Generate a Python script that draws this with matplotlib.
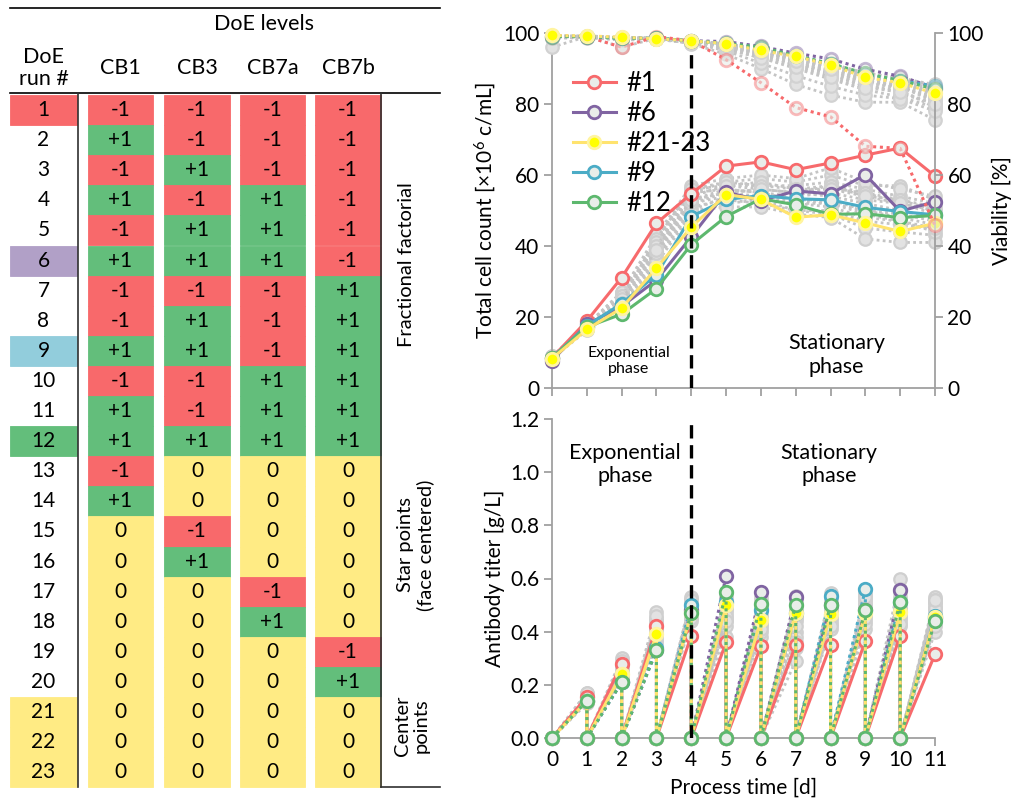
import numpy as np
import matplotlib
matplotlib.use("Agg")
import matplotlib.pyplot as plt
from matplotlib.patches import Rectangle
from matplotlib.colors import to_rgba

plt.rcParams['font.family'] = ['Lato', 'DejaVu Sans']
plt.rcParams['mathtext.fontset'] = 'custom'
plt.rcParams['mathtext.rm'] = 'Lato'
plt.rcParams['mathtext.it'] = 'Lato:italic'
plt.rcParams['mathtext.bf'] = 'Lato:bold'

# ---------------- DATA ----------------
runs = list(range(1, 24))
factors = ["CB1", "CB3", "CB7a", "CB7b"]
cb1 = [-1, 1, -1, 1, -1, 1, -1, -1, 1, -1, 1, 1, -1, 1, 0, 0, 0, 0, 0, 0, 0, 0, 0]
cb3 = [-1, -1, 1, -1, 1, 1, -1, 1, 1, -1, -1, 1, 0, 0, -1, 1, 0, 0, 0, 0, 0, 0, 0]
cb7a = [-1, -1, -1, 1, 1, 1, -1, -1, -1, 1, 1, 1, 0, 0, 0, 0, -1, 1, 0, 0, 0, 0, 0]
cb7b = [-1, -1, -1, -1, -1, -1, 1, 1, 1, 1, 1, 1, 0, 0, 0, 0, 0, 0, -1, 1, 0, 0, 0]
groups = [("Fractional factorial", 1, 12), ("Star points\n(face centered)", 13, 20),
          ("Center\npoints", 21, 23)]

days = list(range(12))
labels = ["#1", "#6", "#21-23", "#9", "#12"]

count_1 = [8.5, 18.9, 31.1, 46.4, 54.7, 62.5, 63.7, 61.5, 63.4, 65.6, 67.6, 59.7]
count_6 = [7.7, 17.9, 23.0, 30.4, 42.6, 55.2, 52.8, 55.5, 54.7, 60.1, 49.8, 52.5]
count_21 = [8.3, 16.5, 22.5, 33.8, 45.3, 54.5, 53.1, 48.1, 48.8, 46.5, 44.1, 46.4]
count_9 = [8.5, 17.5, 23.8, 31.9, 48.3, 53.1, 54.2, 53.3, 53.0, 50.9, 49.7, 48.8]
count_12 = [8.5, 17.2, 20.8, 28.0, 40.4, 48.3, 53.3, 51.6, 48.9, 49.1, 48.0, 48.6]

via_1 = [99.0, 99.0, 96.0, 99.0, 97.8, 92.5, 86.0, 79.0, 76.4, 68.1, 67.5, 45.8]
via_6 = [99.2, 99.0, 98.6, 98.5, 97.8, 97.6, 96.2, 94.3, 92.7, 89.8, 87.8, 84.6]
via_21 = [99.3, 99.2, 98.8, 98.4, 97.8, 97.0, 95.1, 93.4, 91.0, 87.5, 86.0, 83.0]
via_9 = [99.0, 99.0, 98.5, 98.5, 97.8, 97.0, 95.6, 93.6, 91.2, 88.3, 86.6, 85.0]
via_12 = [99.0, 99.0, 98.5, 98.5, 97.8, 97.1, 96.0, 93.6, 91.4, 88.6, 86.6, 84.2]

titer_1 = [0.155, 0.28, 0.42, 0.385, 0.36, 0.345, 0.35, 0.35, 0.365, 0.385, 0.315]
titer_6 = [0.14, 0.21, 0.33, 0.48, 0.61, 0.55, 0.53, 0.50, 0.48, 0.555, 0.45]
titer_21 = [0.14, 0.24, 0.39, 0.47, 0.50, 0.445, 0.47, 0.465, 0.47, 0.475, 0.455]
titer_9 = [0.14, 0.21, 0.34, 0.50, 0.51, 0.48, 0.47, 0.535, 0.56, 0.51, 0.46]
titer_12 = [0.14, 0.21, 0.33, 0.47, 0.55, 0.505, 0.50, 0.50, 0.48, 0.51, 0.44]

gray_count = [
    [8.8, 17.5, 26, 40, 55, 58, 59, 58, 60, 57, 57, 53],
    [8.6, 17.0, 25, 42, 56, 57, 57, 57, 58, 56, 54, 52],
    [8.9, 17.8, 27, 43, 57, 59, 60, 59, 62, 58, 56, 54],
    [8.4, 16.8, 24, 38, 52, 55, 56, 55, 57, 54, 53, 50],
    [8.7, 17.2, 25, 39, 53, 56, 55, 54, 55, 53, 52, 49],
    [8.5, 16.5, 23, 36, 50, 54, 54, 52, 52, 50, 49, 47],
    [8.8, 17.4, 26, 41, 54, 57, 58, 56, 56, 55, 53, 51],
    [8.3, 16.2, 23, 35, 49, 52, 53, 50, 50, 47, 46, 45],
    [8.6, 17.1, 25, 40, 53, 55, 56, 55, 54, 52, 50, 48],
    [8.9, 17.6, 27, 42, 56, 58, 57, 56, 57, 55, 52, 50],
    [8.5, 16.9, 24, 37, 51, 53, 52, 50, 49, 45, 44, 43],
    [8.7, 17.3, 26, 41, 55, 56, 55, 53, 53, 50, 48, 46],
    [8.4, 16.6, 24, 36, 50, 51, 51, 49, 48, 42, 41, 41],
    [8.8, 17.7, 26, 40, 54, 57, 56, 55, 56, 54, 52, 50],
    [8.6, 17.0, 25, 38, 52, 54, 53, 52, 51, 48, 47, 44],
    [8.5, 16.8, 24, 39, 53, 55, 54, 53, 52, 49, 47, 45],
]
gray_via = [
    [99.2, 99.0, 98.6, 98.4, 97.6, 96.5, 95.0, 92.5, 90.0, 87.0, 85.0, 81.0],
    [98.8, 98.9, 98.2, 98.3, 97.4, 95.5, 93.0, 90.0, 87.0, 84.0, 82.0, 79.0],
    [96.0, 99.0, 96.0, 98.5, 97.0, 94.0, 90.0, 85.5, 82.5, 80.5, 80.5, 75.5],
    [99.0, 99.2, 98.8, 98.6, 97.8, 97.0, 95.5, 93.5, 91.5, 88.5, 87.0, 84.0],
    [98.5, 98.7, 98.0, 98.2, 97.2, 96.0, 94.0, 91.0, 88.0, 85.5, 83.0, 80.0],
    [99.1, 99.0, 98.5, 98.4, 97.6, 96.8, 95.0, 92.0, 89.5, 86.0, 84.5, 82.0],
    [98.9, 98.8, 98.3, 98.5, 97.5, 96.2, 94.5, 92.8, 90.5, 88.0, 86.0, 83.0],
    [99.0, 99.1, 98.7, 98.3, 97.3, 95.8, 93.5, 91.5, 89.0, 86.5, 85.0, 80.5],
    [98.7, 98.9, 98.4, 98.6, 97.7, 96.6, 95.2, 93.0, 91.0, 88.5, 87.5, 85.0],
    [99.2, 99.0, 98.6, 98.4, 97.5, 96.0, 94.2, 91.8, 88.5, 85.0, 84.0, 79.0],
    [98.6, 98.8, 98.1, 98.2, 97.2, 95.0, 91.5, 88.0, 85.0, 82.5, 81.5, 78.0],
    [99.0, 99.0, 98.5, 98.5, 97.6, 96.5, 94.8, 92.5, 90.0, 87.0, 85.5, 82.5],
    [98.8, 99.0, 98.4, 98.3, 97.4, 96.3, 94.0, 91.2, 88.8, 86.0, 84.8, 81.5],
    [99.1, 99.1, 98.7, 98.5, 97.7, 96.9, 95.3, 93.2, 91.2, 88.8, 87.2, 85.5],
    [98.9, 98.9, 98.2, 98.4, 97.5, 95.5, 93.0, 90.5, 87.5, 84.5, 83.5, 80.0],
    [99.0, 98.8, 98.5, 98.5, 97.6, 96.4, 94.6, 92.2, 89.8, 87.5, 86.2, 83.5],
]
gray_titer = [
    [0.16, 0.30, 0.475, 0.53, 0.50, 0.53, 0.535, 0.545, 0.53, 0.60, 0.53],
    [0.15, 0.27, 0.44, 0.51, 0.55, 0.50, 0.50, 0.52, 0.54, 0.52, 0.51],
    [0.17, 0.25, 0.42, 0.49, 0.45, 0.42, 0.40, 0.45, 0.50, 0.48, 0.49],
    [0.14, 0.22, 0.36, 0.44, 0.38, 0.38, 0.29, 0.41, 0.41, 0.42, 0.40],
    [0.15, 0.24, 0.40, 0.48, 0.48, 0.46, 0.45, 0.48, 0.46, 0.47, 0.46],
    [0.16, 0.26, 0.43, 0.50, 0.52, 0.48, 0.48, 0.50, 0.52, 0.50, 0.50],
    [0.13, 0.23, 0.37, 0.46, 0.44, 0.43, 0.38, 0.44, 0.44, 0.45, 0.43],
    [0.15, 0.25, 0.41, 0.52, 0.53, 0.51, 0.52, 0.53, 0.55, 0.56, 0.52],
    [0.14, 0.24, 0.39, 0.47, 0.47, 0.45, 0.44, 0.46, 0.48, 0.46, 0.45],
    [0.16, 0.28, 0.45, 0.50, 0.50, 0.47, 0.46, 0.49, 0.50, 0.53, 0.48],
    [0.15, 0.23, 0.38, 0.45, 0.42, 0.40, 0.34, 0.43, 0.43, 0.44, 0.42],
    [0.14, 0.26, 0.43, 0.51, 0.49, 0.50, 0.49, 0.51, 0.51, 0.49, 0.51],
    [0.16, 0.27, 0.44, 0.49, 0.46, 0.44, 0.42, 0.47, 0.47, 0.48, 0.47],
    [0.15, 0.25, 0.40, 0.47, 0.51, 0.49, 0.47, 0.50, 0.49, 0.51, 0.49],
    [0.14, 0.22, 0.35, 0.45, 0.44, 0.41, 0.36, 0.42, 0.45, 0.43, 0.44],
    [0.17, 0.29, 0.46, 0.52, 0.54, 0.52, 0.51, 0.52, 0.53, 0.55, 0.52],
]

# ---------------- STYLE ----------------
RED, PURPLE, YEL, BLUE, GREEN = "#F76A6C", "#8064A2", "#FFE36E", "#4BACC6", "#5DB86E"
CELL_RED, CELL_GREEN, CELL_YEL = "#F8696B", "#63BE7B", "#FFEB84"
run_highlight = {1: CELL_RED, 6: "#B1A0C7", 9: "#92CDDC", 12: CELL_GREEN,
                 21: CELL_YEL, 22: CELL_YEL, 23: CELL_YEL}
level_color = {-1: CELL_RED, 1: CELL_GREEN, 0: CELL_YEL}
MFC = "#E9EDE9"
GRAY = "#C4C4C4"
SPINE = "#A0A0A0"

fig = plt.figure(figsize=(10.12, 8.0), dpi=100)

# ---------------- TABLE ----------------
axt = fig.add_axes([0, 0, 450 / 1012, 1])
axt.set_xlim(0, 450)
axt.set_ylim(800, 0)
axt.axis("off")
row_top, row_h = 95.0, 30.1
col_run = (10, 77)
col_cb = [(88, 153), (164, 230), (240, 305), (315, 381)]
tfs = 15
levels = [cb1, cb3, cb7a, cb7b]
for i, r in enumerate(runs):
    y0 = row_top + i * row_h
    yc = y0 + row_h / 2
    if r in run_highlight:
        axt.add_patch(Rectangle((col_run[0], y0), col_run[1] - col_run[0], row_h,
                                facecolor=run_highlight[r], edgecolor=run_highlight[r], lw=0.6))
    axt.text((col_run[0] + col_run[1]) / 2, yc, str(r), ha="center", va="center", fontsize=tfs)
    for (x0, x1), lv in zip(col_cb, levels):
        v = lv[i]
        axt.add_patch(Rectangle((x0, y0), x1 - x0, row_h, facecolor=level_color[v],
                                edgecolor=level_color[v], lw=0.6))
        axt.text((x0 + x1) / 2, yc, f"{v:+d}" if v != 0 else "0", ha="center", va="center", fontsize=tfs)
y_end = row_top + len(runs) * row_h
axt.plot([10, 440], [8, 8], color="black", lw=1.2)
axt.plot([10, 440], [93, 93], color="black", lw=1.2)
axt.plot([78, 78], [93, y_end], color="#303030", lw=1.2)
axt.plot([381, 381], [93, y_end], color="#303030", lw=1.2)
axt.plot([381, 440], [y_end, y_end], color="#303030", lw=1.2)
axt.text(264, 24, "DoE levels", ha="center", va="center", fontsize=tfs + 0.5)
axt.text(44, 68, "DoE\nrun #", ha="center", va="center", fontsize=tfs + 0.5, linespacing=1.15)
for (x0, x1), f in zip(col_cb, factors):
    axt.text((x0 + x1) / 2, 68, f, ha="center", va="center", fontsize=tfs + 0.5)
group_text_y = [265, 545, 726]
group_text_x = [407, 416, 412]
for (name, a, b), gy, gx in zip(groups, group_text_y, group_text_x):
    axt.text(gx, gy, name, ha="center", va="center", rotation=90, fontsize=tfs - 0.5,
             linespacing=1.15)

# ---------------- TOP CHART ----------------
fs = 15
ax1 = fig.add_axes([552 / 1012, 1 - 388 / 800, 383 / 1012, 355 / 800])
ax2 = ax1.twinx()
for ax in (ax1, ax2):
    ax.set_xlim(0, 11)
    ax.set_ylim(0, 100)
    ax.set_yticks(range(0, 101, 20))
    ax.spines["top"].set_visible(False)
    for s in ("left", "right", "bottom"):
        ax.spines[s].set_color(SPINE)
        ax.spines[s].set_linewidth(1.3)
    ax.tick_params(direction="out", length=6, width=1.3, color=SPINE, labelsize=fs, pad=3)
ax1.set_xticks(days)
ax1.tick_params(axis="x", labelbottom=False)
ax1.spines["right"].set_visible(False)
ax2.spines["left"].set_visible(False)
ax2.spines["bottom"].set_visible(False)

for c, v in zip(gray_count, gray_via):
    ax1.plot(days, c, ls=(0, (1, 1.2)), lw=2, color=GRAY, marker="o", ms=9, mfc="#E2E2E2",
             mec="#CFCFCF", mew=1.6, clip_on=False, zorder=2)
    ax2.plot(days, v, ls=(0, (1, 1.2)), lw=2, color=GRAY, marker="o", ms=9, mfc="#E2E2E2",
             mec="#D2D2D2", mew=1.6, clip_on=False, zorder=2)

series = [
    ("#1", RED, count_1, via_1, titer_1),
    ("#6", PURPLE, count_6, via_6, titer_6),
    ("#9", BLUE, count_9, via_9, titer_9),
    ("#12", GREEN, count_12, via_12, titer_12),
    ("#21-23", YEL, count_21, via_21, titer_21),
]
handles = {}
for name, col, cnt, via, tit in series:
    if name == "#21-23":
        mfc, mec = "#FFFF00", "#FFF4A0"
    else:
        mfc, mec = MFC, col
    h, = ax1.plot(days, cnt, ls="-", lw=2.2, color=col, marker="o", ms=9, mfc=mfc, mec=mec,
                  mew=2, clip_on=False, zorder=3, label=name)
    handles[name] = h
    ax2.plot(days, via, ls=(0, (1, 1.2)), lw=2.2, color=col, marker="o", ms=9,
             mfc=mfc if name == "#21-23" else to_rgba(MFC, 0.6),
             mec=to_rgba(mec, 0.45) if name != "#21-23" else mec,
             mew=2, clip_on=False, zorder=3)

ax1.axvline(4, color="black", ls=(0, (4, 2)), lw=2.4, zorder=4)
ax1.text(2.2, 7.6, "Exponential\nphase", ha="center", va="center", fontsize=11.5, linespacing=1.25)
ax1.text(8.17, 9.3, "Stationary\nphase", ha="center", va="center", fontsize=15.5, linespacing=1.2)
ax1.set_ylabel(r"Total cell count [×10$^{6}$ c/mL]", fontsize=fs, labelpad=4)
ax2.set_ylabel("Viability [%]", fontsize=fs, labelpad=6)

leg = ax2.legend([handles[l] for l in labels], labels, loc="upper left",
                 bbox_to_anchor=(0.02, 0.93), frameon=False, fontsize=18.5,
                 handlelength=1.7, handletextpad=0.4, labelspacing=0.2, borderpad=0)

# ---------------- BOTTOM CHART ----------------
ax3 = fig.add_axes([552 / 1012, 1 - 738 / 800, 383 / 1012, 319 / 800])
ax3.set_xlim(0, 11)
ax3.set_ylim(0, 1.2)
ax3.set_xticks(days)
ax3.set_yticks(np.arange(0, 1.21, 0.2))
ax3.set_yticklabels([f"{t:.1f}" for t in np.arange(0, 1.21, 0.2)])
for s in ("top", "right"):
    ax3.spines[s].set_visible(False)
for s in ("left", "bottom"):
    ax3.spines[s].set_color(SPINE)
    ax3.spines[s].set_linewidth(1.3)
ax3.tick_params(direction="out", length=6, width=1.3, color=SPINE, labelsize=fs, pad=3)


def sawtooth(values):
    xs, ys = [0], [0.0]
    for d, v in zip(days[1:], values):
        xs += [d, d]
        ys += [v, 0.0]
    return xs[:-1], ys[:-1]


for t in gray_titer:
    x, y = sawtooth(t)
    ax3.plot(x, y, ls=(0, (1, 1.2)), lw=2, color=GRAY, marker="o", ms=9, mfc="#E2E2E2",
             mec="#CFCFCF", mew=1.6, clip_on=False, zorder=2)

bottom_order = [("#1", "-"), ("#6", ":"), ("#9", ":"), ("#21-23", "-"), ("#12", ":")]
sdict = {s[0]: s for s in series}
for name, lsty in bottom_order:
    _, col, _, _, tit = sdict[name]
    x, y = sawtooth(tit)
    if name == "#21-23":
        mfc, mec = "#FFFF00", "#FFF4A0"
    else:
        mfc, mec = MFC, col
    ax3.plot(x, y, ls="-" if lsty == "-" else (0, (1, 1.2)), lw=2.2, color=col, marker="o", ms=9,
             mfc=mfc, mec=mec, mew=2, clip_on=False, zorder=3)

ax3.plot([4, 4], [0, 1.184], color="black", ls=(0, (4, 2)), lw=2.4, zorder=4)
ax3.text(2.1, 1.028, "Exponential\nphase", ha="center", va="center", fontsize=15.5, linespacing=1.2)
ax3.text(7.96, 1.028, "Stationary\nphase", ha="center", va="center", fontsize=15.5, linespacing=1.2)
ax3.set_ylabel("Antibody titer [g/L]", fontsize=fs, labelpad=4)
ax3.set_xlabel("Process time [d]", fontsize=fs, labelpad=5)

fig.savefig("out.png", dpi=100)
